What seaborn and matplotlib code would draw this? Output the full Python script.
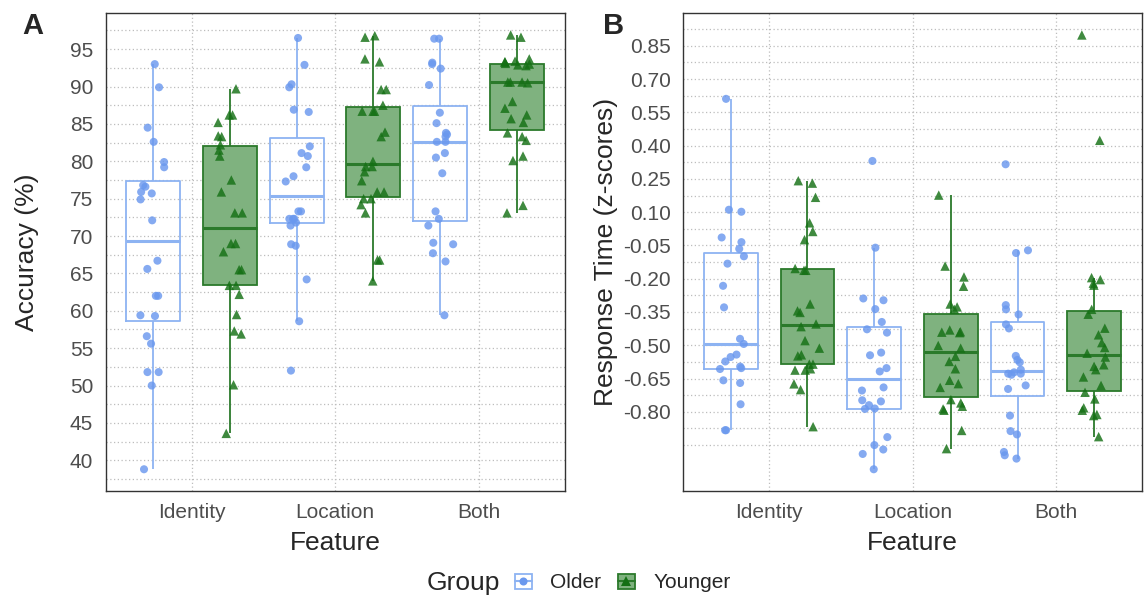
import numpy as np
import pandas as pd
import matplotlib.pyplot as plt
import seaborn as sns
from matplotlib.patches import Patch
from matplotlib.lines import Line2D
from matplotlib.legend_handler import HandlerTuple

# categories
features = ['Identity', 'Location', 'Both']
groups = ['Older', 'Younger']

# Panel A: accuracy (%) per participant
acc_identity_older = [93.0, 89.9, 84.5, 82.6, 79.9, 79.2, 76.8, 76.6, 75.9, 75.7, 74.9, 72.1,
                      66.7, 65.6, 62.0, 62.0, 59.4, 59.3, 56.6, 55.6, 51.8, 51.8, 50.0, 38.8]
acc_identity_younger = [89.7, 86.2, 86.2, 85.2, 83.4, 83.3, 82.2, 81.5, 80.7, 77.5, 75.9, 73.1, 73.1,
                        69.0, 69.0, 67.9, 65.5, 65.5, 63.4, 63.4, 62.2, 59.5, 57.3, 56.9, 50.1, 43.6]
acc_location_older = [96.5, 92.9, 90.3, 89.9, 86.9, 86.6, 82.0, 81.1, 80.7, 79.2, 78.0, 77.3,
                      73.3, 73.3, 72.3, 72.3, 72.3, 71.8, 71.4, 68.9, 68.7, 64.2, 58.6, 52.0]
acc_location_younger = [96.8, 96.6, 93.7, 93.3, 89.6, 89.6, 87.5, 86.7, 86.7, 86.7, 83.9, 83.3, 80.0,
                        79.3, 79.3, 78.6, 77.4, 75.9, 75.9, 75.0, 75.0, 74.2, 73.1, 66.8, 66.8, 64.0]
acc_both_older = [96.4, 96.4, 93.2, 93.0, 92.4, 90.2, 86.5, 85.1, 83.8, 83.6, 83.3, 82.6,
                  82.6, 81.1, 80.5, 78.4, 73.3, 72.3, 71.4, 69.1, 68.9, 67.7, 66.6, 59.4]
acc_both_younger = [96.9, 96.6, 93.7, 93.4, 93.3, 93.3, 93.1, 93.0, 92.9, 92.8, 90.6, 90.6, 90.6,
                    90.5, 88.0, 87.1, 86.2, 85.7, 85.2, 83.8, 83.3, 82.8, 80.7, 80.1, 74.1, 73.1]

# Panel B: response time (z-scores)
rt_identity_older = [0.611, 0.111, 0.102, -0.014, -0.035, -0.065, -0.099, -0.132, -0.232, -0.329,
                     -0.471, -0.494, -0.542, -0.553, -0.573, -0.596, -0.603, -0.607, -0.658,
                     -0.670, -0.766, -0.883, -0.883]
rt_identity_younger = [0.242, 0.231, 0.167, 0.052, 0.013, -0.024, -0.154, -0.162, -0.162, -0.314,
                       -0.345, -0.352, -0.404, -0.416, -0.479, -0.513, -0.543, -0.548, -0.585,
                       -0.585, -0.606, -0.612, -0.612, -0.674, -0.700, -0.867]
rt_location_older = [0.331, -0.060, -0.289, -0.297, -0.337, -0.395, -0.428, -0.443, -0.533, -0.545,
                     -0.603, -0.618, -0.690, -0.704, -0.748, -0.753, -0.770, -0.785, -0.787,
                     -0.914, -0.950, -0.970, -0.990, -1.059]
rt_location_younger = [0.177, -0.143, -0.192, -0.234, -0.314, -0.327, -0.338, -0.431, -0.439,
                       -0.441, -0.443, -0.501, -0.513, -0.550, -0.573, -0.606, -0.658, -0.673,
                       -0.690, -0.745, -0.760, -0.775, -0.787, -0.793, -0.884, -0.966]
rt_both_older = [0.316, -0.072, -0.084, -0.319, -0.338, -0.361, -0.406, -0.424, -0.548, -0.566,
                 -0.577, -0.610, -0.622, -0.628, -0.628, -0.633, -0.681, -0.697, -0.817,
                 -0.887, -0.902, -0.981, -0.996, -1.011]
rt_both_younger = [0.899, 0.424, -0.195, -0.204, -0.220, -0.229, -0.338, -0.360, -0.423, -0.453,
                   -0.488, -0.510, -0.536, -0.553, -0.588, -0.595, -0.610, -0.643, -0.681,
                   -0.712, -0.742, -0.782, -0.793, -0.812, -0.817, -0.912]

# axis ticks
acc_ticks = [40, 45, 50, 55, 60, 65, 70, 75, 80, 85, 90, 95]
rt_ticks = [-0.80, -0.65, -0.50, -0.35, -0.20, -0.05, 0.10, 0.25, 0.40, 0.55, 0.70, 0.85]

# colours
older_line = '#8DB3F2'
older_point = '#6A98EE'
younger_fill = '#7FB27F'
younger_line = '#2B7A2B'
younger_point = '#157015'


def long_table(older, younger):
    rows = []
    for feat, vals in zip(features, older):
        rows += [(feat, 'Older', v) for v in vals]
    for feat, vals in zip(features, younger):
        rows += [(feat, 'Younger', v) for v in vals]
    return pd.DataFrame(rows, columns=['Feature', 'Group', 'value'])


acc = long_table([acc_identity_older, acc_location_older, acc_both_older],
                 [acc_identity_younger, acc_location_younger, acc_both_younger])
rt = long_table([rt_identity_older, rt_location_older, rt_both_older],
                [rt_identity_younger, rt_location_younger, rt_both_younger])

sns.set_style('white')
plt.rcParams['font.family'] = ['Liberation Sans', 'DejaVu Sans']
np.random.seed(3)

fig = plt.figure(figsize=(11.46, 5.97), dpi=100)
axA = fig.add_axes([0.0921, 0.1776, 0.4006, 0.8002])
axB = fig.add_axes([0.5963, 0.1776, 0.3999, 0.8002])


def draw_panel(ax, df):
    # boxes: older unfilled, younger filled
    box_pal = {'Older': older_line, 'Younger': younger_fill}
    for grp in groups:
        sub = df[df['Group'] == grp]
        sns.boxplot(data=sub, x='Feature', y='value', hue='Group', order=features,
                    hue_order=groups, palette=box_pal, saturation=1, dodge=True,
                    width=1.067, gap=0.297, whis=1.5, showcaps=False, showfliers=False,
                    fill=(grp == 'Younger'), linecolor=younger_line, linewidth=1.3,
                    medianprops={'linewidth': 2.2}, legend=False, ax=ax)
    # jittered points; a spacer hue level pushes the dodge to the box centres
    pt_pal = {'Older': older_point, 'spacer': 'white', 'Younger': younger_point}
    for grp, mk, sz in [('Older', 'o', 5.8), ('Younger', '^', 6.8)]:
        sub = df[df['Group'] == grp]
        sns.stripplot(data=sub, x='Feature', y='value', hue='Group', order=features,
                      hue_order=['Older', 'spacer', 'Younger'], palette=pt_pal, dodge=True,
                      jitter=0.285, marker=mk, size=sz, alpha=0.82, linewidth=0,
                      legend=False, zorder=3, ax=ax)
    vals = df['value']
    pad = 0.05 * (vals.max() - vals.min())
    ax.set_ylim(vals.min() - pad, vals.max() + pad)
    ax.set_xlim(-0.6, 2.6)
    ax.grid(True, which='both', linestyle=(0, (1, 2)), color='#BDBDBD', linewidth=0.9)
    ax.set_axisbelow(True)
    for s in ax.spines.values():
        s.set_visible(True)
        s.set_color('#333333')
        s.set_linewidth(1.0)
    ax.tick_params(axis='both', which='major', length=5, width=1.0, color='#333333',
                   labelsize=15, labelcolor='#4D4D4D', pad=4)
    ax.tick_params(axis='both', which='minor', length=0)
    ax.set_xlabel('Feature', fontsize=19, labelpad=6)


draw_panel(axA, acc)
axA.set_yticks(acc_ticks)
axA.set_yticks(np.arange(37.5, 100, 5), minor=True)
axA.set_ylabel('Accuracy (%)', fontsize=19)
axA.yaxis.set_label_coords(-0.145, 0.5)

draw_panel(axB, rt)
axB.set_yticks(rt_ticks)
axB.set_yticklabels([f'{v:.2f}' for v in rt_ticks])
axB.set_yticks(np.round(np.linspace(-0.95, 0.925, 26), 3), minor=True)
axB.set_ylabel('Response Time (z-scores)', fontsize=19)
axB.yaxis.set_label_coords(-0.143, 0.5)

fig.text(22.7 / 1146, 1 - 11.7 / 597, 'A', fontsize=21, fontweight='bold', va='top', ha='left')
fig.text(603 / 1146, 1 - 11.7 / 597, 'B', fontsize=21, fontweight='bold', va='top', ha='left')

# legend at the bottom
fig.text(426.7 / 1146, 14 / 597, 'Group', fontsize=19, va='center', ha='left')
h_old = (Patch(facecolor='white', edgecolor=older_line, linewidth=1.3),
         Line2D([], [], color=older_line, lw=1.5, marker='o', markersize=5.8,
                markerfacecolor=older_point, markeredgewidth=0))
h_young = (Patch(facecolor=younger_fill, edgecolor=younger_line, linewidth=1.3),
           Line2D([], [], color=younger_line, lw=1.5, marker='^', markersize=6.5,
                  markerfacecolor=younger_point, markeredgewidth=0))
fig.legend([h_old, h_young], groups, handler_map={tuple: HandlerTuple(ndivide=1, pad=0)},
           loc='center left', bbox_to_anchor=(515 / 1146, 14 / 597), ncol=2, frameon=False,
           fontsize=15, handlelength=0.8, handleheight=0.7, handletextpad=0.9,
           columnspacing=0.8, borderpad=0, borderaxespad=0)

fig.savefig('out.png', dpi=100)
